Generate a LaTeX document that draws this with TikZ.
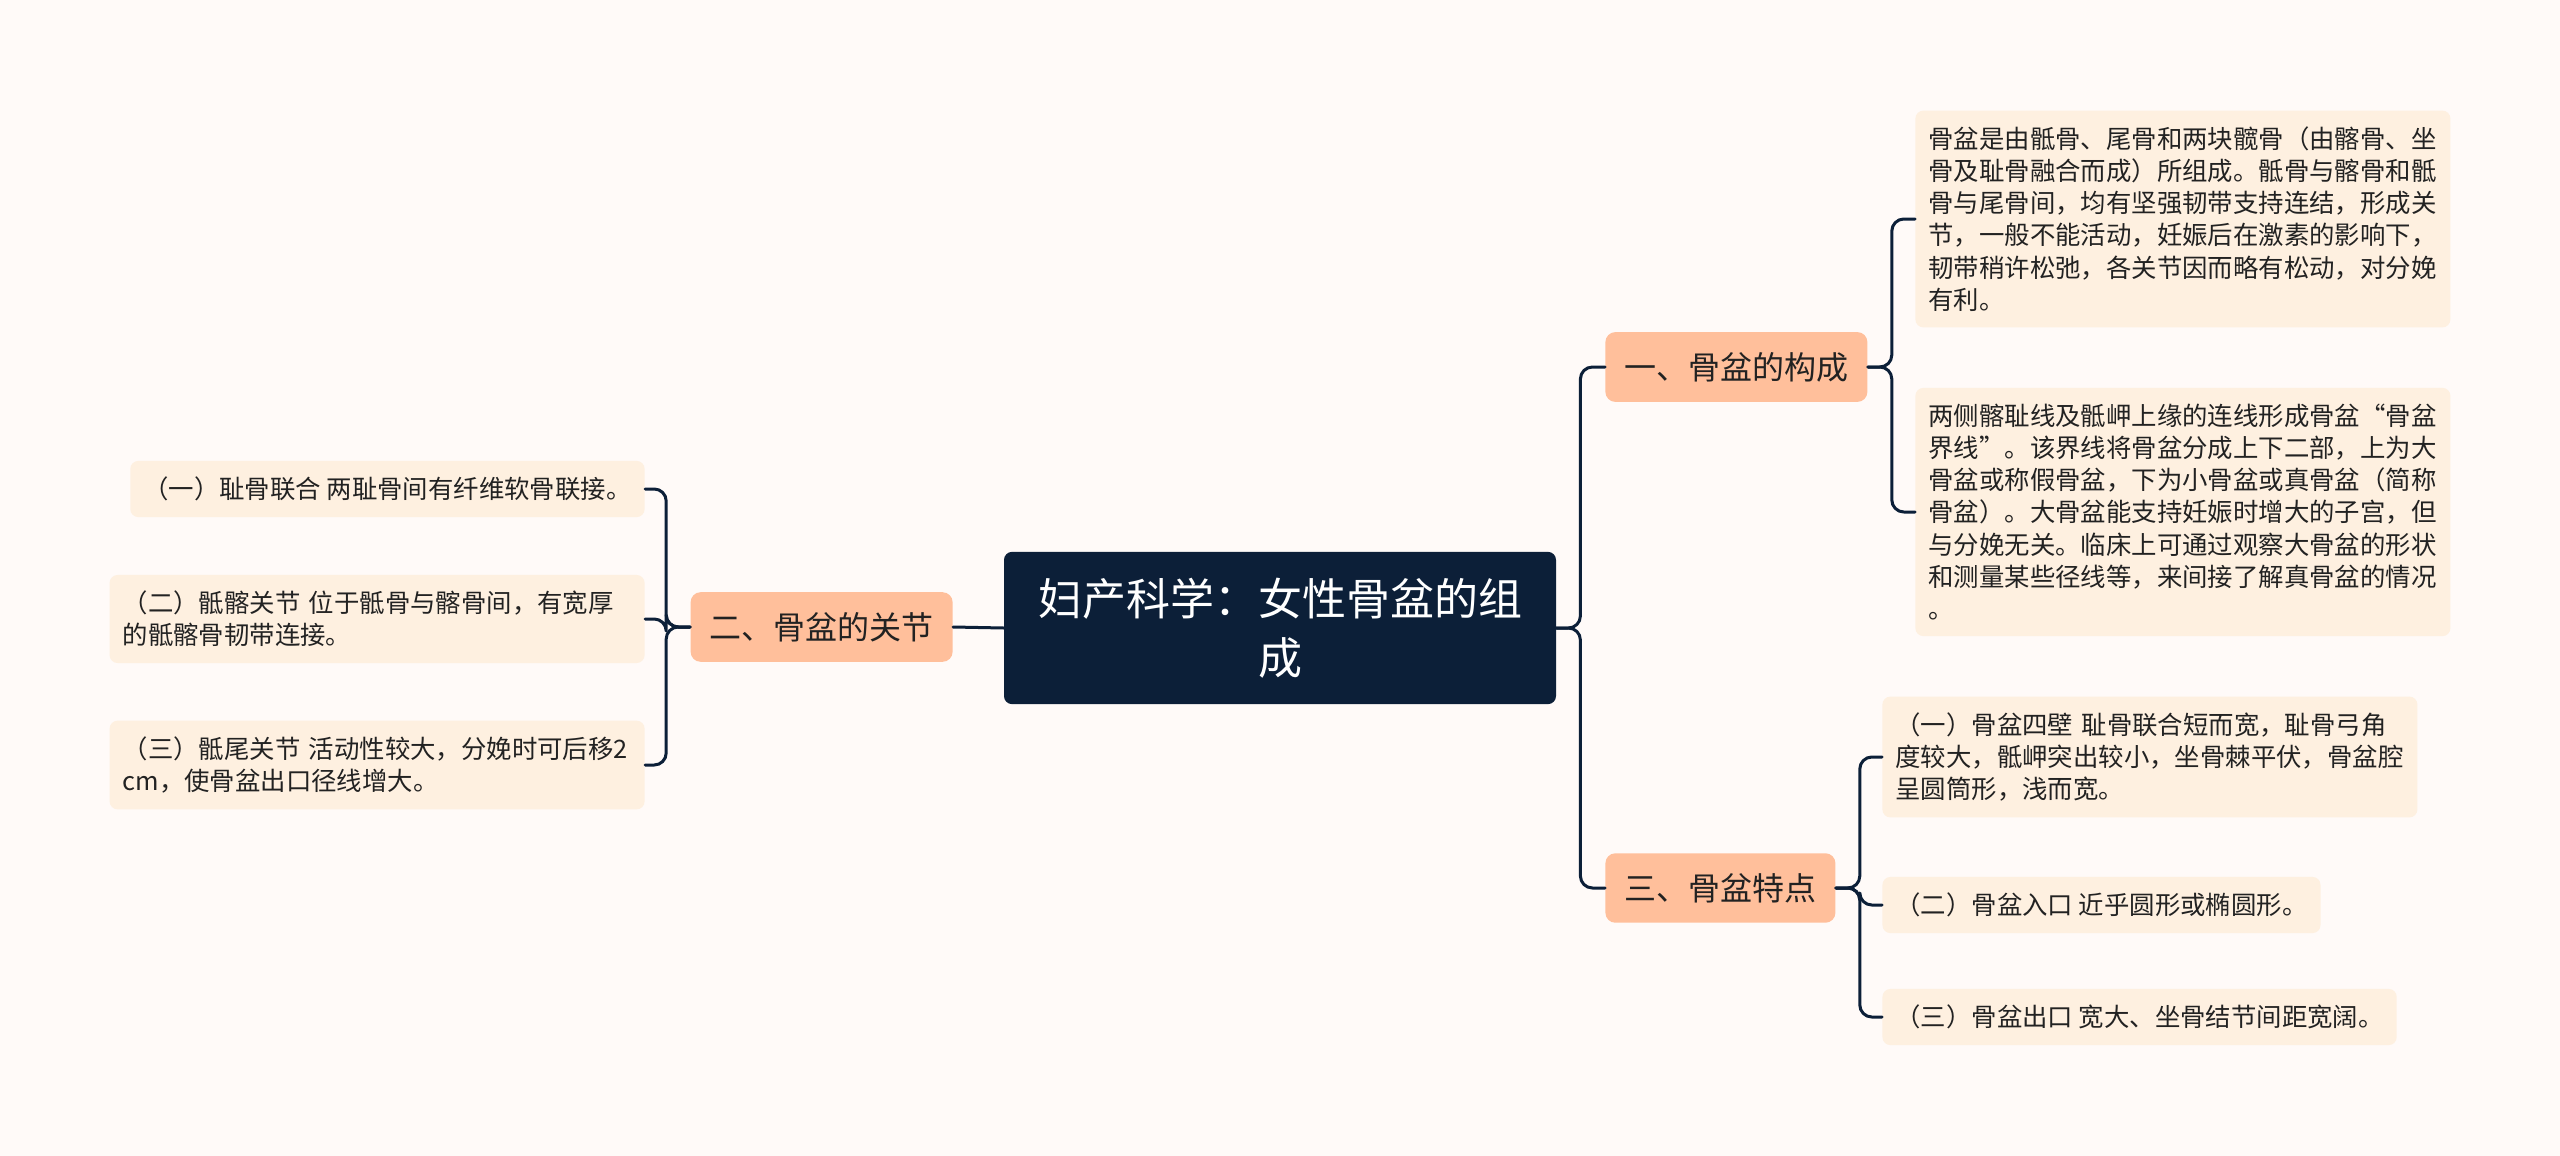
\documentclass[tikz,border=0pt]{standalone}
\usepackage{fontspec}
\setmainfont{Noto Sans CJK SC}
\definecolor{paper}{HTML}{FFFAF8}
\definecolor{navy}{HTML}{0C1F38}
\definecolor{salmon}{HTML}{FFBF9B}
\definecolor{peach}{HTML}{FEF0E0}
\definecolor{ink}{HTML}{222222}
\begin{document}
\begin{tikzpicture}[x=0.5pt, y=-0.5pt, line join=round, line cap=round,
    root/.style={fill=navy, text=white, rounded corners=4pt, align=center,
      font=\fontsize{22}{29.5}\selectfont, inner xsep=17pt, inner ysep=13pt},
    topic/.style={fill=salmon, text=ink, rounded corners=5pt,
      font=\fontsize{16}{19}\selectfont, inner xsep=9.5pt, inner ysep=10pt},
    leaf/.style={fill=peach, text=ink, rounded corners=4pt, align=left,
      font=\fontsize{12.7}{16.1}\selectfont, inner xsep=6.5pt, inner ysep=8pt},
    wide/.style={leaf, text width=254.5pt},
    link/.style={draw=navy, line width=1.5pt, rounded corners=6pt}]
  \def\gap{24}
  \fill[paper] (0,0) rectangle (2560,1156);
  \useasboundingbox (0,0) rectangle (2560,1156);
  % centre and main topics
  \node[root] (root) at (1280,628) {妇产科学：女性骨盆的组\\成};
  \node[topic, anchor=west] (gouc) at (1605,367) {一、骨盆的构成};
  \node[topic, anchor=east] (guanj) at (953,627) {二、骨盆的关节};
  \node[topic, anchor=west] (tedian) at (1605,888) {三、骨盆特点};
  % 一
  \node[wide, anchor=west] (gouc1) at (1915,219) {骨盆是由骶骨、尾骨和两块髋骨（由髂骨、坐\\骨及耻骨融合而成）所组成。骶骨与髂骨和骶\\骨与尾骨间，均有坚强韧带支持连结，形成关\\节，一般不能活动，妊娠后在激素的影响下，\\韧带稍许松弛，各关节因而略有松动，对分娩\\有利。};
  \node[wide, anchor=west] (gouc2) at (1915,512) {两侧髂耻线及骶岬上缘的连线形成骨盆“骨盆\\界线”。该界线将骨盆分成上下二部，上为大\\骨盆或称假骨盆，下为小骨盆或真骨盆（简称\\骨盆）。大骨盆能支持妊娠时增大的子宫，但\\与分娩无关。临床上可通过观察大骨盆的形状\\和测量某些径线等，来间接了解真骨盆的情况\\。};
  % 二
  \node[leaf, anchor=east] (guanj1) at (645,489) {（一）耻骨联合 两耻骨间有纤维软骨联接。};
  \node[wide, anchor=east] (guanj2) at (645,619) {（二）骶髂关节 位于骶骨与髂骨间，有宽厚\\的骶髂骨韧带连接。};
  \node[wide, anchor=east] (guanj3) at (645,765) {（三）骶尾关节 活动性较大，分娩时可后移2\\cm，使骨盆出口径线增大。};
  % 三
  \node[wide, anchor=west] (tedian1) at (1882,757) {（一）骨盆四壁 耻骨联合短而宽，耻骨弓角\\度较大，骶岬突出较小，坐骨棘平伏，骨盆腔\\呈圆筒形，浅而宽。};
  \node[leaf, anchor=west] (tedian2) at (1882,905) {（二）骨盆入口 近乎圆形或椭圆形。};
  \node[leaf, anchor=west] (tedian3) at (1882,1017) {（三）骨盆出口 宽大、坐骨结节间距宽阔。};
  % links
  \draw[link] (root.west) -- (guanj.east);
  \foreach \t in {gouc,tedian}
    \draw[link] (root.east) -- ++(\gap,0) |- (\t.west);
  \foreach \l in {gouc1,gouc2}
    \draw[link] (gouc.east) -- ++(\gap,0) |- (\l.west);
  \foreach \l in {tedian1,tedian2,tedian3}
    \draw[link] (tedian.east) -- ++(\gap,0) |- (\l.west);
  \foreach \l in {guanj1,guanj2,guanj3}
    \draw[link] (guanj.west) -- ++(-\gap,0) |- (\l.east);
\end{tikzpicture}
\end{document}
